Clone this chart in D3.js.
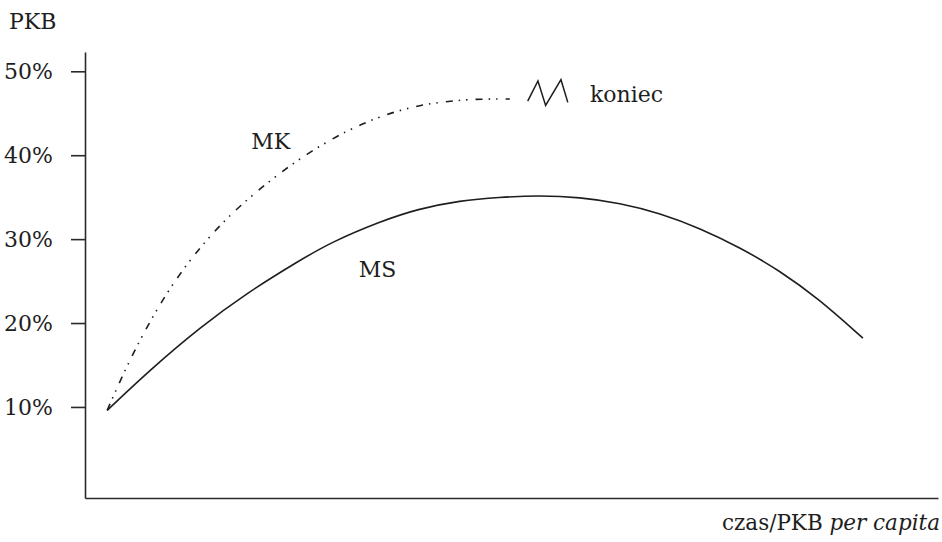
<!DOCTYPE html>
<html>
<head>
<meta charset="utf-8">
<script src="https://cdn.jsdelivr.net/npm/d3@7"></script>
<style>
  html, body { margin: 0; padding: 0; background: #fff; }
  svg { display: block; }
  svg text { font-family: "DejaVu Serif", serif; fill: #1e1e1e; }
</style>
</head>
<body>
<script>
// ---- data ----
const yTicks = [10, 20, 30, 40, 50];
const yTickLabels = ["10%", "20%", "30%", "40%", "50%"];

// MS (solid) curve: x = time / GDP per capita (0-100), y = % of GDP
const msX = [2.6, 7.6, 13.5, 19.0, 25.2, 29.0, 34.6, 39.0, 44.0, 48.5, 53.3, 58.0, 62.7, 67.4, 72.1, 76.8, 81.5, 86.0, 91.2];
const msY = [9.6, 14.4, 19.5, 23.6, 27.5, 29.7, 32.1, 33.6, 34.6, 35.0, 35.2, 35.0, 34.3, 33.1, 31.3, 29.0, 26.2, 22.9, 18.2];

// MK (dash-dot-dot) curve
const mkX = [2.6, 5.55, 9.47, 13.4, 17.25, 21.8, 26.0, 30.6, 34.5, 38.4, 41.5, 44.3, 47.0, 49.8];
const mkY = [9.6, 16.4, 23.6, 29.0, 33.2, 37.1, 40.2, 42.9, 44.6, 45.8, 46.3, 46.6, 46.7, 46.7];

// zigzag "end" mark
const zigX = [51.9, 53.1, 54.0, 55.8, 56.6];
const zigY = [46.45, 48.84, 45.94, 49.0, 46.3];

// annotations
const labels = [
  { text: "MK", x: 19.5, y: 40.8 },
  { text: "MS", x: 32.1, y: 25.5 },
  { text: "koniec", x: 59.2, y: 46.4 }
];

// ---- chart ----
const W = 942, H = 542;
const FS = 22;
const svg = d3.select("body").append("svg").attr("width", W).attr("height", H);

const x = d3.scaleLinear().domain([0, 100]).range([85, 938]);
const y = d3.scaleLinear().domain([-0.85, 52.3]).range([498, 52]);

// y axis
const yAxis = d3.axisLeft(y)
  .tickValues(yTicks)
  .tickFormat((d, i) => yTickLabels[i])
  .tickSize(14)
  .tickSizeOuter(0)
  .tickPadding(18);

const gy = svg.append("g").attr("transform", `translate(${x(0)},0)`).call(yAxis);
gy.attr("font-family", null).attr("font-size", null);
gy.select(".domain").attr("stroke", "#2a2a2a").attr("stroke-width", 1.6);
gy.selectAll(".tick line").attr("stroke", "#2a2a2a").attr("stroke-width", 1.6);
gy.selectAll(".tick text")
  .attr("font-size", FS)
  .attr("fill", "#1e1e1e");

// x axis
const xAxis = d3.axisBottom(x).tickValues([]).tickSizeOuter(0);
const gx = svg.append("g").attr("transform", `translate(0,${y(y.domain()[0])})`).call(xAxis);
gx.select(".domain").attr("stroke", "#2a2a2a").attr("stroke-width", 1.6);

// axis titles
svg.append("text").attr("x", 9).attr("y", 29).attr("font-size", FS).text("PKB");

const xt = svg.append("text")
  .attr("x", 940).attr("y", 530)
  .attr("text-anchor", "end")
  .attr("font-size", FS)
  .attr("textLength", 218)
  .attr("lengthAdjust", "spacingAndGlyphs");
xt.append("tspan").text("czas/PKB ");
xt.append("tspan").attr("font-style", "italic").text("per capita");

// lines
const line = d3.line().x(d => x(d[0])).y(d => y(d[1])).curve(d3.curveBasis);

svg.append("path")
  .datum(msX.map((v, i) => [v, msY[i]]))
  .attr("d", line)
  .attr("fill", "none")
  .attr("stroke", "#1e1e1e")
  .attr("stroke-width", 1.6);

svg.append("path")
  .datum(mkX.map((v, i) => [v, mkY[i]]))
  .attr("d", line)
  .attr("fill", "none")
  .attr("stroke", "#1e1e1e")
  .attr("stroke-width", 1.6)
  .attr("stroke-dasharray", "7,6,1.5,6,1.5,8");

// zigzag
svg.append("path")
  .datum(zigX.map((v, i) => [v, zigY[i]]))
  .attr("d", d3.line().x(d => x(d[0])).y(d => y(d[1])))
  .attr("fill", "none")
  .attr("stroke", "#1e1e1e")
  .attr("stroke-width", 1.5)
  .attr("stroke-linejoin", "miter");

// labels
svg.selectAll("text.lbl")
  .data(labels)
  .enter().append("text")
  .attr("class", "lbl")
  .attr("x", d => x(d.x))
  .attr("y", d => y(d.y))
  .attr("font-size", FS)
  .text(d => d.text);
</script>
</body>
</html>
